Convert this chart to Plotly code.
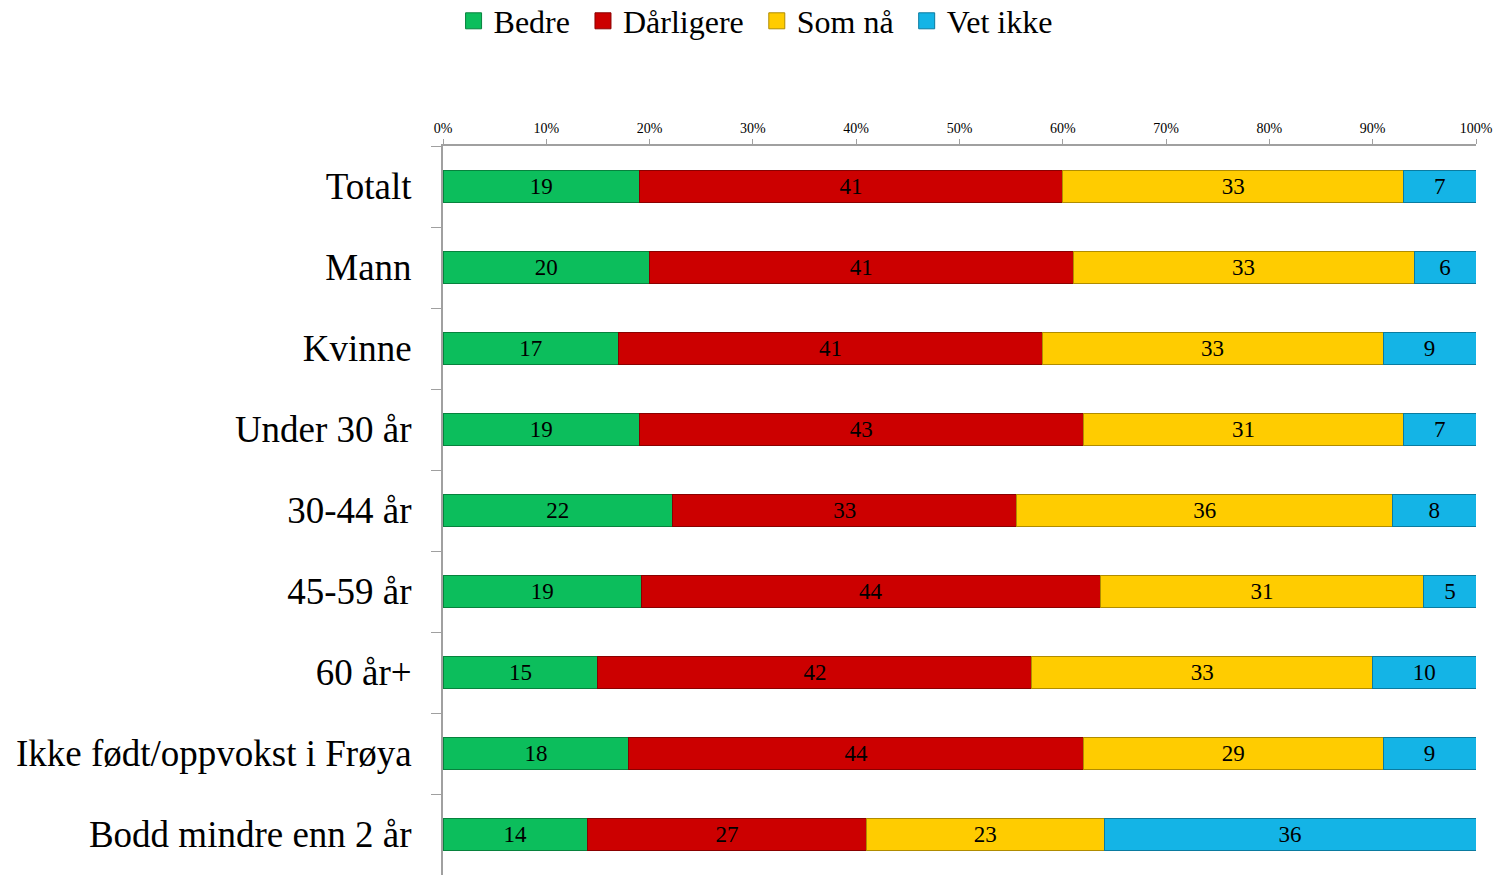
import plotly.graph_objects as go

categories = ["Totalt", "Mann", "Kvinne", "Under 30 år", "30-44 år", "45-59 år",
              "60 år+", "Ikke født/oppvokst i Frøya", "Bodd mindre enn 2 år"]
bedre = [19, 20, 17, 19, 22, 19, 15, 18, 14]
darligere = [41, 41, 41, 43, 33, 44, 42, 44, 27]
som_na = [33, 33, 33, 31, 36, 31, 33, 29, 23]
vet_ikke = [7, 6, 9, 7, 8, 5, 10, 9, 36]
tick_vals = [0, 10, 20, 30, 40, 50, 60, 70, 80, 90, 100]
tick_text = ["0%", "10%", "20%", "30%", "40%", "50%", "60%", "70%", "80%", "90%", "100%"]

series = [
    ("Bedre", bedre, "#0CBE5C", "#07823D"),
    ("Dårligere", darligere, "#CC0000", "#8A0000"),
    ("Som nå", som_na, "#FFCC00", "#B08C00"),
    ("Vet ikke", vet_ikke, "#14B4E6", "#0A7BA0"),
]

FONT = "Liberation Serif, Times New Roman, serif"

fig = go.Figure()
for name, vals, col, edge in series:
    fig.add_trace(go.Bar(
        name=name, y=categories, x=vals, orientation="h",
        marker=dict(color=col, line=dict(color=edge, width=1)),
        text=[str(v) for v in vals], textposition="inside",
        insidetextanchor="middle", textangle=0,
        textfont=dict(family=FONT, size=23, color="black"),
        width=0.4, showlegend=False,
    ))

# legend entries with larger square swatches
for i, (name, vals, col, edge) in enumerate(series):
    label = name + ("\u00a0" if i < len(series) - 1 else "")
    fig.add_trace(go.Scatter(
        name=label, x=[None], y=[None], mode="markers",
        marker=dict(symbol="square", size=16, color=col, line=dict(color=edge, width=1)),
        showlegend=True, hoverinfo="skip",
    ))

fig.update_layout(
    barmode="stack", barnorm="percent",
    width=1495, height=875,
    margin=dict(l=443, r=19, t=146, b=0),
    paper_bgcolor="white", plot_bgcolor="white",
    font=dict(family=FONT, color="black"),
    uniformtext=dict(mode="show", minsize=10),
    legend=dict(orientation="h", xref="container", yref="container",
                x=0.5054, xanchor="center", y=0.976, yanchor="middle",
                font=dict(size=32, family=FONT), itemwidth=30,
                traceorder="normal"),
    xaxis=dict(side="top", range=[0, 100], tickvals=tick_vals, ticktext=tick_text,
               tickfont=dict(size=14, family=FONT), ticks="outside", ticklen=5,
               tickcolor="#A0A0A0", showline=True, linecolor="#A0A0A0", linewidth=2,
               showgrid=False, zeroline=False),
    yaxis=dict(autorange="reversed", tickfont=dict(size=37, family=FONT),
               ticks="outside", tickson="boundaries", ticklen=10,
               tickcolor="#A0A0A0", showline=True, linecolor="#A0A0A0", linewidth=2,
               showgrid=False, ticklabelstandoff=22),
)

fig.write_html(
    "out.html",
    config={"displayModeBar": False},
    post_script="document.body.style.margin='0';document.body.style.overflow='hidden';",
)
